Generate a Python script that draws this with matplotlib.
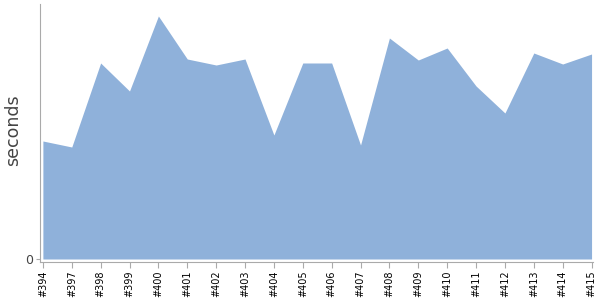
import numpy as np
import matplotlib
matplotlib.use("Agg")
import matplotlib.pyplot as plt

# build numbers and durations
builds = ["#394", "#397", "#398", "#399", "#400", "#401", "#402", "#403", "#404", "#405",
          "#406", "#407", "#408", "#409", "#410", "#411", "#412", "#413", "#414", "#415"]
seconds = [118, 112, 196, 168, 243, 200, 194, 200, 124, 196,
           196, 114, 221, 199, 211, 173, 146, 206, 195, 205]

x = np.arange(len(builds))

fig = plt.figure(figsize=(6, 3), dpi=100)
ax = fig.add_axes([40 / 600, 38 / 300, 553 / 600, 258 / 300])

ax.fill_between(x, 0, seconds, color="#8fb1da", linewidth=0)

ax.set_xlim(-0.1, 19.05)
ax.set_ylim(-3, 255)
ax.set_xticks(x)
ax.set_xticklabels(builds, rotation=90, fontsize=7)
ax.set_yticks([0])
ax.set_yticklabels(["0"], fontsize=9, color="#444444")
ax.set_ylabel("seconds", fontsize=12.5, color="#444444")
ax.yaxis.set_label_coords(-0.032, 0.51)

for side in ["top", "right"]:
    ax.spines[side].set_visible(False)
for side in ["left", "bottom"]:
    ax.spines[side].set_color("#aaaaaa")
ax.tick_params(axis="x", length=4, color="#aaaaaa", pad=2)
ax.tick_params(axis="y", length=3, color="#aaaaaa", pad=2)

fig.savefig("out.png", dpi=100)
